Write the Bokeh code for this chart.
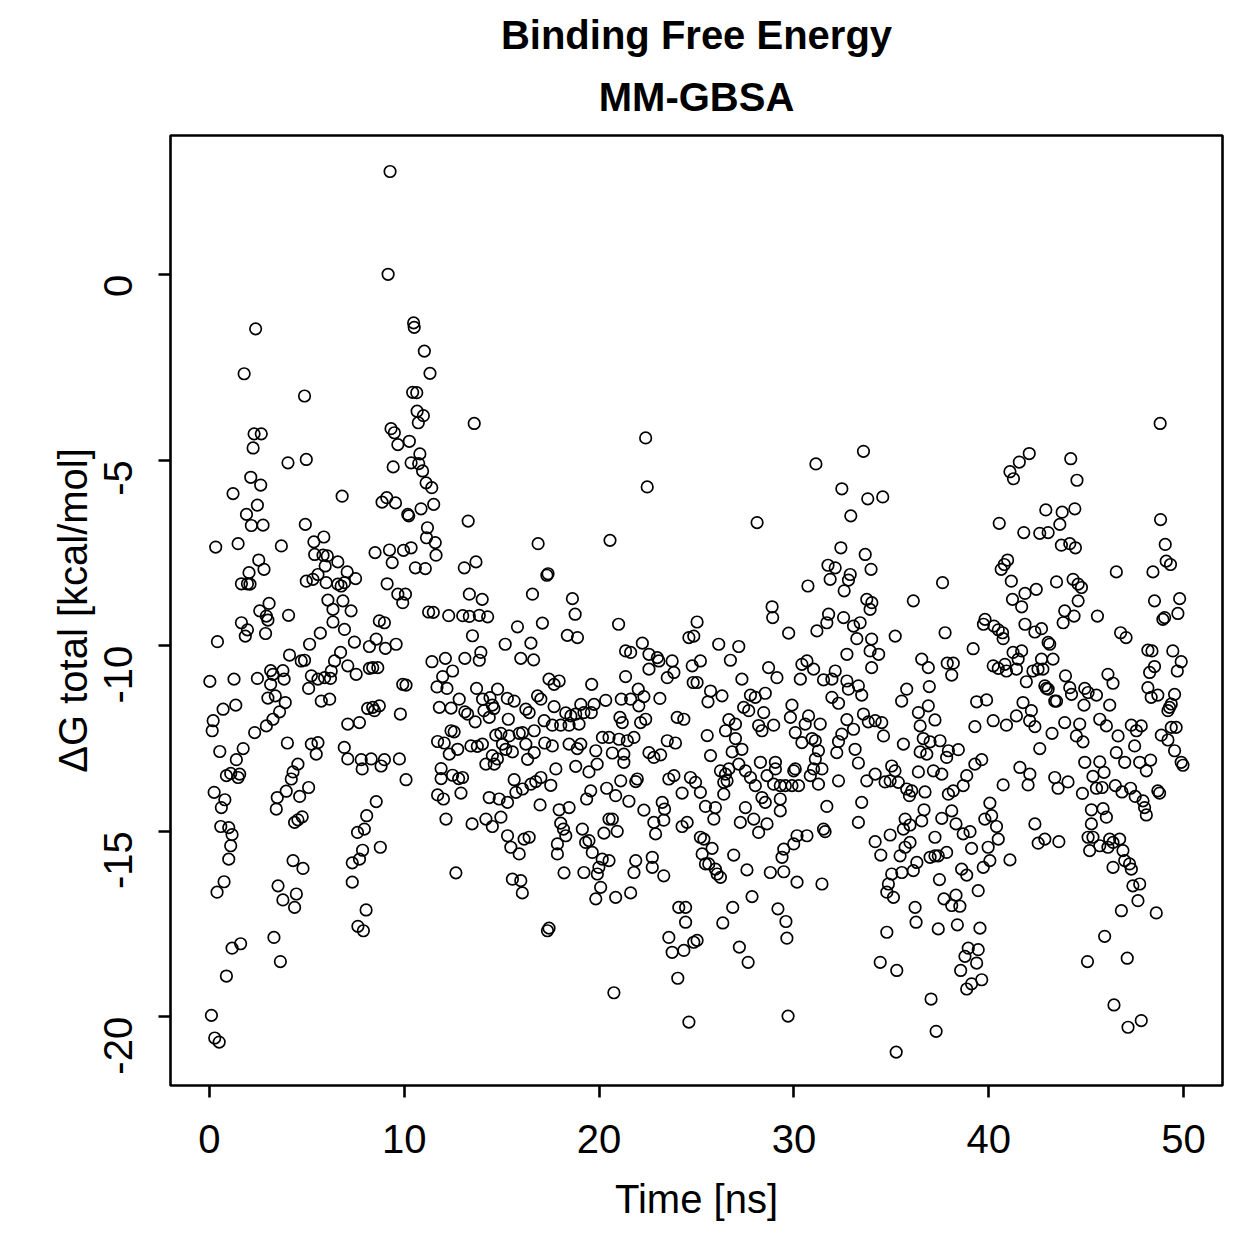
import math
from bokeh.plotting import figure
from bokeh.models import Range1d, FixedTicker, Title, ColumnDataSource
from bokeh.embed import file_html
from bokeh.resources import INLINE

# MM-GBSA binding free energy per frame: (time [ns], dG total [kcal/mol])
frames_00_07 = [
    (2.37, -1.46), (1.78, -2.67), (4.88, -3.27), (2.29, -4.29), (2.66, -4.29), (2.24, -4.67),
    (4.03, -5.07), (4.97, -4.98), (2.12, -5.46), (2.63, -5.67), (1.21, -5.9), (2.46, -6.21),
    (1.9, -6.46), (2.15, -6.76), (2.75, -6.75), (6.81, -5.97), (4.92, -6.73), (0.32, -7.34),
    (1.47, -7.25), (3.69, -7.31), (2.53, -7.69), (2.8, -7.94), (2.03, -8.03), (1.64, -8.33),
    (1.95, -8.33), (2.08, -8.34), (5.87, -7.07), (5.36, -7.2), (5.4, -7.54), (5.83, -7.56),
    (6.05, -7.58), (6.59, -7.74), (5.94, -7.85), (7.07, -8.01), (4.97, -8.26), (5.31, -8.21),
    (5.57, -8.08), (5.99, -8.3), (6.59, -8.34), (6.76, -8.39), (6.93, -8.3),
    (3.06, -8.86), (2.58, -9.06), (2.92, -9.2), (3.0, -9.31), (2.88, -9.67), (4.06, -9.18),
    (1.64, -9.38), (1.95, -9.57), (1.84, -9.74), (0.41, -9.89), (5.14, -9.96), (5.69, -9.66),
    (6.08, -8.77), (6.34, -9.02), (6.85, -8.79), (6.34, -9.36), (6.93, -9.56), (4.11, -10.25),
    (4.71, -10.41), (4.88, -10.39), (0.02, -10.96), (1.26, -10.9), (2.46, -10.88), (3.14, -10.67),
    (3.26, -10.77), (3.77, -10.67), (3.83, -10.9), (3.14, -11.04), (3.0, -11.41), (3.38, -11.35),
    (3.89, -11.53), (3.6, -11.78), (3.26, -11.98), (2.92, -12.16), (2.32, -12.34), (5.23, -10.81),
    (5.57, -10.9), (5.91, -10.86), (6.21, -10.88), (6.25, -10.68), (5.09, -11.15), (5.74, -11.49),
    (6.17, -11.44), (6.42, -10.41), (6.73, -10.18), (7.1, -10.54), (0.7, -11.71), (1.35, -11.6),
    (0.19, -12.02), (0.14, -12.29), (0.53, -12.85), (1.73, -12.77), (1.38, -13.07), (0.87, -13.5),
    (1.09, -13.44), (1.55, -13.46), (1.47, -13.55), (4.0, -12.62), (5.23, -12.65), (5.57, -12.61),
    (5.48, -12.92), (6.92, -12.74), (7.1, -13.05), (7.1, -12.11), (4.29, -13.4), (4.54, -13.19),
    (4.2, -13.59), (3.94, -13.92), (4.63, -14.06), (5.09, -13.82), (3.48, -14.09), (3.43, -14.4),
    (4.37, -14.76), (4.54, -14.69), (4.76, -14.61), (0.24, -13.95), (0.79, -14.15), (0.61, -14.36),
    (0.58, -14.87), (0.99, -14.9), (1.16, -15.09), (1.09, -15.39), (0.99, -15.75), (4.29, -15.79),
    (4.8, -16.0), (0.75, -16.36), (0.39, -16.64), (3.52, -16.47), (3.77, -16.85), (4.46, -16.69),
    (4.37, -17.05), (3.31, -17.86), (3.64, -18.51), (1.6, -18.03), (1.16, -18.15), (0.87, -18.9),
    (0.1, -19.96), (0.27, -20.57), (0.5, -20.68),
]

frames_07_16 = [
    (9.27, 2.78), (9.17, 0.01), (10.48, -1.3), (10.51, -1.42), (11.03, -2.06), (11.32, -2.66),
    (10.43, -3.17), (10.64, -3.18), (10.66, -3.68), (10.98, -3.8), (10.72, -3.99), (13.59, -4.01),
    (9.32, -4.15), (9.49, -4.26), (9.67, -4.58), (10.26, -4.49), (10.8, -4.83), (10.35, -5.07),
    (10.74, -5.09), (10.94, -5.29), (9.43, -5.18), (11.12, -5.61), (11.41, -5.74), (11.51, -6.19),
    (8.86, -6.13), (9.1, -6.01), (9.55, -6.15), (10.18, -6.46), (10.23, -6.5), (10.86, -6.31),
    (13.28, -6.64), (11.19, -6.82), (11.14, -7.09), (11.59, -7.22), (11.63, -7.56), (8.5, -7.49),
    (9.24, -7.42), (9.38, -7.76), (9.96, -7.43), (10.35, -7.36), (10.57, -7.9), (11.08, -7.92),
    (13.08, -7.9), (13.68, -7.74), (7.5, -8.19), (9.12, -8.33), (9.67, -8.61), (10.06, -8.61),
    (13.34, -8.61), (14.0, -8.75),
    (9.92, -8.84), (7.27, -9.06), (8.72, -9.33), (8.98, -9.38), (8.56, -9.82), (7.44, -9.9),
    (8.21, -10.02), (9.03, -10.07), (9.58, -9.96), (7.53, -10.77), (8.21, -10.61), (8.38, -10.59),
    (8.64, -10.59), (9.92, -11.04), (10.09, -11.06), (8.12, -11.69), (8.38, -11.66), (8.72, -11.62),
    (8.47, -11.75), (9.8, -11.84), (7.7, -12.07), (7.79, -13.07), (7.84, -13.32), (8.3, -13.05),
    (8.81, -13.24), (8.98, -13.07), (9.75, -13.05), (10.09, -13.61), (8.56, -14.2), (8.07, -14.58),
    (7.6, -15.03), (7.95, -14.94), (8.77, -15.43), (7.86, -15.51), (7.7, -15.75), (7.33, -15.85),
    (7.33, -16.37), (8.04, -17.12), (7.62, -17.56), (7.9, -17.68),
    (14.28, -9.22), (13.85, -9.18), (13.34, -9.21), (13.0, -9.19), (12.28, -9.19), (11.49, -9.1),
    (11.25, -9.09), (13.5, -9.73), (15.81, -9.49), (15.18, -9.96), (15.98, -10.34),
    (11.42, -10.43), (12.11, -10.34), (12.48, -10.68), (11.97, -10.83), (11.68, -11.11),
    (12.19, -11.15), (13.11, -10.34), (13.85, -10.39), (13.93, -10.18),
    (11.8, -11.66), (12.4, -11.68), (12.82, -11.44), (13.11, -11.78), (13.25, -11.84), (13.64, -12.05),
    (13.71, -11.15), (14.02, -11.44), (14.4, -11.4), (14.79, -11.17), (15.29, -11.42), (15.64, -11.49),
    (14.52, -11.6), (14.6, -11.69), (14.09, -11.75), (14.36, -11.93), (15.34, -11.98), (16.24, -11.71),
    (11.71, -12.58), (12.05, -12.62), (12.4, -12.29), (12.56, -12.32), (12.31, -12.92), (12.74, -12.79),
    (13.42, -12.7), (13.75, -12.71), (14.01, -12.65), (14.7, -12.41), (14.96, -12.36), (15.38, -12.43),
    (15.9, -12.36), (15.04, -12.65), (15.21, -12.79), (15.55, -12.86), (14.52, -12.96), (14.78, -13.05),
    (14.19, -13.19), (14.62, -13.19),
    (11.89, -13.31), (11.89, -13.58), (12.48, -13.49), (12.79, -13.58), (12.99, -13.55), (12.91, -13.97),
    (11.71, -14.02), (12.01, -14.13), (12.14, -14.67), (13.48, -14.8), (14.19, -14.67), (14.52, -14.87),
    (14.96, -14.62), (14.36, -14.09), (14.87, -14.13), (15.3, -14.22), (15.64, -13.61), (15.73, -13.95),
    (16.07, -13.86), (15.3, -15.12), (15.47, -15.43), (15.9, -15.61), (15.55, -16.29), (15.98, -16.33),
    (16.06, -16.66), (12.65, -16.12),
]

frames_16_25 = [
    (22.39, -4.4), (22.47, -5.72), (16.87, -7.25), (20.56, -7.16), (17.32, -8.1), (17.38, -8.06),
    (16.58, -8.61), (18.63, -8.73),
    (18.77, -9.15), (17.09, -9.39), (16.5, -9.93), (16.64, -10.38), (18.37, -9.72), (18.89, -9.78),
    (21.0, -9.42),
    (21.36, -10.14), (21.62, -10.18), (22.22, -9.93), (22.56, -10.23), (22.99, -10.32), (23.07, -10.41),
    (23.75, -10.41), (23.5, -10.86), (23.84, -10.72), (22.56, -10.63), (21.36, -10.83), (22.01, -11.17),
    (22.3, -11.37), (23.12, -11.42), (22.04, -11.62), (22.39, -11.98), (22.13, -12.07), (21.07, -11.93),
    (21.19, -12.07), (20.34, -11.47), (21.14, -11.44), (21.62, -11.44),
    (24.61, -9.78), (24.86, -9.74), (25.03, -9.36), (24.78, -10.54), (24.83, -10.99), (24.01, -11.93),
    (24.35, -11.98),
    (17.43, -10.9), (17.69, -11.04), (17.95, -10.95), (19.62, -11.04), (16.84, -11.35), (17.01, -11.44),
    (17.69, -11.64), (16.41, -11.8), (18.29, -11.81), (18.55, -11.89), (18.8, -11.84), (19.06, -11.58),
    (19.22, -11.8), (19.6, -11.8), (19.74, -11.58), (18.97, -12.11), (17.18, -12.02), (17.6, -12.14),
    (18.03, -12.14), (18.46, -12.14), (16.67, -12.29), (16.07, -12.34), (16.24, -12.65), (16.67, -12.88),
    (16.33, -13.06), (17.21, -12.62), (17.6, -12.7), (18.46, -12.65), (19.06, -12.65), (18.88, -12.77),
    (19.83, -12.83), (20.17, -12.47), (20.51, -12.47), (21.02, -12.52), (21.45, -12.56), (21.79, -12.47),
    (20.68, -12.89), (21.27, -12.92), (21.27, -13.14), (19.9, -13.19), (18.8, -13.25), (19.48, -13.4),
    (17.78, -13.32), (22.56, -12.88), (22.81, -13.01), (23.16, -12.94), (23.5, -12.56), (23.92, -12.62),
    (16.75, -13.66), (17.01, -13.55), (16.5, -13.73), (17.52, -13.76), (16.97, -14.29), (17.95, -14.42),
    (18.46, -14.36), (18.03, -14.78), (18.17, -14.94), (18.29, -15.12), (17.86, -15.34), (17.86, -15.61),
    (18.2, -16.12), (16.41, -15.16), (16.15, -15.21),
    (19.36, -14.13), (19.57, -13.91), (20.39, -13.84), (20.85, -14.04), (21.53, -14.19), (21.11, -13.64),
    (21.88, -13.66), (21.96, -13.59), (22.3, -14.43), (22.81, -14.76), (22.9, -15.07), (23.24, -14.22),
    (23.36, -14.4), (23.32, -14.7), (23.58, -13.59), (23.84, -13.5), (24.26, -13.97), (24.69, -13.55),
    (24.95, -13.68), (25.2, -13.95), (24.26, -14.87), (24.52, -14.76),
    (20.51, -14.67), (20.68, -14.67), (20.25, -15.05), (19.14, -14.94), (19.31, -15.3), (19.48, -15.25),
    (19.65, -15.57), (20.16, -15.75), (20.51, -15.79), (19.99, -15.97), (19.91, -16.15), (20.08, -16.51),
    (19.83, -16.82), (20.85, -16.78), (21.62, -16.66), (21.88, -15.79), (21.79, -16.11), (22.73, -15.7),
    (22.73, -15.97), (23.32, -16.2), (20.93, -15.0), (19.22, -16.11),
    (24.09, -17.05), (24.44, -17.05), (24.44, -17.45), (23.58, -17.86), (23.75, -18.26), (24.35, -18.21),
    (24.86, -17.99), (25.03, -17.94), (24.04, -18.96), (24.61, -20.14), (20.76, -19.35), (17.43, -17.61),
    (17.35, -17.68),
]

frames_25_34 = [
    (33.57, -4.76), (31.13, -5.1), (32.46, -5.77), (33.79, -6.04), (32.92, -6.5), (28.11, -6.68),
    (32.41, -7.36), (33.66, -7.54), (31.75, -7.83), (32.12, -7.9), (31.86, -8.21), (32.89, -8.08),
    (32.8, -8.23), (33.96, -7.94), (30.72, -8.39), (32.58, -8.52), (33.74, -8.75),
    (33.91, -9.02), (28.88, -8.95), (28.91, -9.24), (29.73, -9.66), (31.78, -9.15), (31.69, -9.38),
    (32.55, -9.24), (33.06, -9.47), (33.4, -9.38), (33.23, -9.81), (33.99, -9.82), (31.18, -9.6),
    (32.72, -10.23), (33.91, -10.14),
    (26.14, -9.96), (27.17, -10.02), (26.74, -10.39), (25.2, -10.41), (25.03, -10.99),
    (28.7, -10.59), (29.13, -10.86), (27.33, -10.9), (30.33, -10.9), (30.41, -10.5), (30.67, -10.41),
    (31.01, -10.63), (31.52, -10.92), (31.95, -10.9), (32.12, -10.68), (32.72, -10.95), (32.8, -11.17),
    (33.31, -11.08), (33.48, -11.33), (33.99, -10.59),
    (25.72, -11.22), (26.31, -11.35), (25.59, -11.51), (27.77, -11.33), (28.02, -11.39), (28.53, -11.28),
    (27.42, -11.66), (27.68, -11.75), (28.45, -11.8), (29.9, -11.6), (29.82, -11.93), (31.95, -11.39),
    (32.29, -11.55), (30.75, -11.89), (30.58, -12.11), (31.35, -12.11), (32.72, -11.99), (33.57, -11.84),
    (33.82, -12.05),
    (26.66, -11.99), (27.0, -12.11), (26.49, -12.29), (25.55, -12.42), (27.0, -12.5), (26.83, -12.86),
    (27.33, -12.79), (28.19, -12.15), (28.36, -12.29), (28.96, -12.14), (30.07, -12.34), (30.41, -12.61),
    (30.93, -12.5), (31.1, -12.56), (32.46, -12.38), (33.06, -12.25), (32.29, -12.58), (32.2, -12.88),
    (31.26, -12.83), (31.1, -13.05), (33.14, -12.79), (33.31, -13.16), (25.72, -12.96),
    (26.23, -13.37), (26.49, -13.46), (26.66, -13.32), (27.17, -13.19), (27.51, -13.37), (27.77, -13.55),
    (28.02, -13.77), (26.4, -13.68), (26.57, -13.64), (28.28, -13.14), (29.05, -13.14), (28.62, -13.5),
    (29.05, -13.32), (30.07, -13.32), (29.99, -13.37), (30.84, -13.5), (31.01, -13.32), (31.44, -13.32),
    (28.96, -13.73), (29.3, -13.77), (29.56, -13.77), (29.9, -13.77), (30.24, -13.77), (31.26, -13.73),
    (32.29, -13.64), (33.74, -13.64),
    (26.4, -14.0), (25.46, -14.33), (25.97, -14.36), (25.89, -14.67), (27.51, -14.36), (27.25, -14.76),
    (27.94, -14.67), (28.19, -15.03), (28.62, -14.8), (28.36, -14.09), (28.53, -14.22), (29.3, -14.13),
    (29.3, -14.45), (31.69, -14.33), (33.48, -14.22), (33.31, -14.76), (31.52, -14.94), (31.6, -15.01),
    (30.67, -15.12), (30.16, -15.12), (29.99, -15.34), (29.48, -15.48), (29.39, -15.7),
    (25.2, -15.16), (25.38, -15.21), (25.8, -15.46), (25.29, -15.61), (25.46, -15.88), (25.63, -15.88),
    (25.97, -16.02), (26.06, -16.15), (26.23, -16.24), (26.91, -15.64), (27.59, -16.04), (28.79, -16.11),
    (29.48, -16.09), (30.16, -16.37), (31.44, -16.42),
    (27.85, -16.76), (26.86, -17.05), (26.35, -17.47), (29.18, -17.09), (29.59, -17.43), (29.64, -17.88),
    (27.2, -18.12), (27.65, -18.53), (29.7, -19.98),
]

frames_34_43 = [
    (42.08, -4.82), (41.57, -5.05), (41.09, -5.31), (41.27, -5.5), (34.56, -5.99), (40.54, -6.7),
    (42.93, -6.34), (41.8, -6.95), (42.62, -6.97), (43.05, -6.95), (37.63, -8.3), (40.97, -7.69),
    (40.8, -7.81), (40.64, -7.94), (41.16, -8.26), (41.86, -8.59), (42.44, -8.48), (41.22, -8.75),
    (36.13, -8.79),
    (34.0, -8.84), (35.2, -9.74), (34.35, -10.23), (37.76, -9.65), (39.2, -10.08), (41.69, -8.95),
    (39.81, -9.29), (39.73, -9.42), (40.27, -9.47), (40.49, -9.57), (40.71, -9.65), (40.74, -9.81),
    (41.86, -9.42), (42.37, -9.63), (42.71, -9.54), (43.05, -9.91),
    (41.25, -10.18), (41.69, -10.14), (41.51, -10.36), (40.23, -10.54), (40.49, -10.61), (40.83, -10.5),
    (40.91, -10.68), (41.42, -10.63), (41.93, -10.97), (42.27, -10.68), (42.53, -10.63), (42.78, -10.63),
    (42.71, -10.36), (42.88, -11.08), (42.96, -11.15), (43.05, -11.17),
    (36.56, -10.36), (36.9, -10.59), (37.87, -10.47), (38.18, -10.47), (38.1, -10.79), (36.95, -11.1),
    (35.79, -11.17), (35.53, -11.49), (39.38, -11.51), (39.89, -11.46), (39.29, -12.18), (40.23, -12.02),
    (40.91, -12.14), (41.42, -11.89), (41.76, -11.53), (42.19, -11.75), (42.1, -12.02), (42.37, -12.18),
    (42.62, -12.77),
    (34.17, -12.02), (34.51, -12.07), (34.6, -12.43), (36.39, -11.8), (36.9, -11.62), (37.24, -12.0),
    (36.48, -12.16), (36.64, -12.5), (36.99, -12.59), (37.5, -12.56), (35.62, -12.65), (36.48, -12.86),
    (36.82, -12.92), (37.93, -12.83), (38.44, -12.8), (37.84, -13.01), (37.16, -13.37), (37.59, -13.46),
    (36.39, -13.4), (35.02, -13.24), (35.19, -13.37), (34.17, -13.46), (34.68, -13.67), (34.94, -13.64),
    (35.36, -13.68), (35.79, -13.86), (36.05, -13.91), (35.93, -14.04), (36.73, -13.94), (37.93, -14.0),
    (38.18, -13.91), (38.69, -13.77), (38.87, -13.5), (39.29, -13.19), (39.64, -13.07), (40.74, -13.75),
    (41.6, -13.28), (42.11, -13.46), (42.02, -13.75), (40.06, -14.24), (39.8, -14.67), (40.15, -14.58),
    (40.4, -14.87), (40.49, -15.21), (39.97, -15.43), (40.06, -15.79), (39.72, -15.97), (39.12, -15.46),
    (39.04, -15.01), (38.69, -15.07), (37.59, -14.65), (38.1, -14.45), (38.32, -14.8), (36.68, -14.42),
    (36.56, -14.72), (35.71, -14.67), (35.96, -14.83), (35.62, -14.94), (34.94, -15.1), (34.17, -15.28),
    (34.46, -15.64), (35.45, -15.66), (35.71, -15.43), (35.96, -15.3), (36.31, -15.84), (36.13, -16.06),
    (35.54, -16.11), (35.02, -16.15), (34.85, -16.42), (34.77, -16.64), (35.11, -16.78), (36.99, -15.7),
    (37.24, -15.66), (37.41, -15.66), (37.84, -15.57), (37.24, -15.16), (38.61, -16.02), (38.87, -16.18),
    (39.46, -16.6), (37.47, -16.3), (37.7, -16.82), (38.32, -16.72), (38.1, -17.0), (38.52, -17.02),
    (36.22, -17.05), (36.27, -17.45), (37.41, -17.63), (38.39, -17.52), (39.55, -17.61), (41.09, -15.77),
    (42.37, -14.8), (42.54, -15.32), (42.88, -15.21), (34.43, -18.53), (35.28, -18.75), (34.77, -17.72),
    (38.95, -18.15), (39.46, -18.19), (38.78, -18.37), (39.38, -18.55), (38.56, -18.75), (39.64, -19.0),
    (39.12, -19.11), (38.87, -19.25), (37.04, -19.52), (37.3, -20.39), (35.25, -20.95),
]

frames_43_50 = [
    (48.8, -4.01), (44.21, -4.96), (44.53, -5.54), (43.77, -6.4), (44.42, -6.31), (43.65, -6.73),
    (43.73, -7.29), (44.16, -7.25), (44.45, -7.36), (48.82, -6.6), (49.06, -7.27), (49.11, -7.72),
    (49.33, -7.81), (46.55, -8.01), (48.43, -8.01), (43.48, -8.28), (44.33, -8.21), (44.59, -8.34),
    (44.76, -8.43), (49.8, -8.73), (48.51, -8.79), (44.59, -8.79),
    (49.71, -9.13), (48.94, -9.29), (49.03, -9.24), (43.9, -9.06), (44.38, -9.2), (43.82, -9.38),
    (45.58, -9.2), (43.13, -9.96), (43.3, -10.36), (43.39, -11.49), (43.48, -11.49), (46.77, -9.65),
    (47.05, -9.78),
    (48.17, -10.12), (48.38, -10.14), (49.45, -10.14), (49.88, -10.43), (49.68, -10.68), (48.51, -10.56),
    (48.26, -10.72), (48.17, -11.13), (48.34, -11.39), (48.68, -11.33), (49.54, -11.31), (49.37, -11.57),
    (49.2, -11.75), (49.28, -11.66),
    (43.94, -10.81), (44.16, -11.13), (44.25, -11.31), (44.93, -11.15), (45.1, -11.26), (45.53, -11.33),
    (44.89, -11.6), (46.21, -11.6), (46.12, -10.77), (46.38, -11.01),
    (43.9, -12.07), (43.25, -12.36), (44.67, -12.11), (44.5, -12.43), (44.84, -12.59), (45.7, -11.98),
    (46.04, -12.16), (46.64, -12.43), (47.32, -12.14), (47.83, -12.16), (47.58, -12.29), (47.49, -12.7),
    (48.86, -12.41), (49.2, -12.54), (49.37, -12.2), (49.62, -12.2), (49.54, -12.83), (49.88, -13.14),
    (49.97, -13.22), (46.55, -12.88), (46.98, -13.14), (47.75, -13.14), (48.09, -13.37), (48.31, -13.08),
    (43.39, -13.55), (43.56, -13.84), (44.07, -13.67), (44.93, -13.14), (45.7, -13.13), (45.92, -13.41),
    (45.35, -13.52), (44.81, -13.98), (45.53, -13.84), (45.82, -13.82), (46.5, -13.77), (46.84, -13.94),
    (47.28, -13.84), (47.52, -14.06), (47.92, -14.18), (48.0, -14.36), (48.09, -14.56), (48.68, -13.91),
    (48.77, -13.97),
    (45.27, -14.42), (45.87, -14.39), (46.04, -14.62), (45.27, -14.8), (45.1, -15.16), (45.35, -15.16),
    (45.7, -15.39), (45.18, -15.52), (46.21, -15.21), (46.38, -15.3), (46.72, -15.21), (46.12, -15.43),
    (46.89, -15.52), (46.98, -15.79), (47.23, -15.88), (47.32, -16.02), (46.38, -15.97), (47.4, -16.47),
    (47.75, -16.42), (47.66, -16.87), (46.81, -17.14), (48.6, -17.2), (45.95, -17.83), (45.07, -18.51),
    (47.11, -18.42), (43.6, -15.28), (46.43, -19.68), (47.15, -20.28), (47.83, -20.1),
]

x_ticks = [0, 10, 20, 30, 40, 50]
y_ticks = [-20, -15, -10, -5, 0]

all_frames = frames_00_07 + frames_07_16 + frames_16_25 + frames_25_34 + frames_34_43 + frames_43_50
source = ColumnDataSource(data=dict(
    time=[t for t, _ in all_frames],
    dg=[g for _, g in all_frames],
))

FONT = "Liberation Sans"
FONT_SIZE = "40px"

p = figure(
    width=1259, height=1259,
    output_backend="svg", toolbar_location=None,
    x_range=Range1d(-2, 52), y_range=Range1d(-21.85, 3.75),
    min_border_left=170, min_border_right=37,
    min_border_top=135, min_border_bottom=174,
    background_fill_color="white", border_fill_color="white",
)

p.xgrid.visible = False
p.ygrid.visible = False
p.outline_line_color = "black"
p.outline_line_width = 2.6
p.outline_line_alpha = 1.0

p.scatter("time", "dg", source=source, marker="circle", size=11.5,
          fill_color=None, line_color="black", line_width=1.7)

for ax in (p.xaxis[0], p.yaxis[0]):
    ax.axis_line_color = None
    ax.major_tick_in = 0
    ax.major_tick_out = 12
    ax.major_tick_line_width = 2.6
    ax.major_tick_line_color = "black"
    ax.minor_tick_line_color = None
    ax.major_label_text_font = FONT
    ax.major_label_text_font_size = FONT_SIZE
    ax.major_label_text_color = "black"
    ax.axis_label_text_font = FONT
    ax.axis_label_text_font_size = FONT_SIZE
    ax.axis_label_text_font_style = "normal"
    ax.axis_label_text_color = "black"

p.xaxis.ticker = FixedTicker(ticks=x_ticks)
p.yaxis.ticker = FixedTicker(ticks=y_ticks)
# plain hyphen-minus for negative tick labels
p.yaxis.major_label_overrides = {v: str(v) for v in y_ticks}
p.xaxis.axis_label = "Time [ns]"
p.yaxis.axis_label = "\u0394G total [kcal/mol]"
p.xaxis.major_label_standoff = 27
p.xaxis.axis_label_standoff = 21
p.yaxis.major_label_orientation = math.pi / 2
p.yaxis.major_label_standoff = 40
p.yaxis.axis_label_standoff = -7

sub_title = Title(text="MM-GBSA", align="center", text_font=FONT, text_color="black",
                  text_font_size=FONT_SIZE, text_font_style="bold", standoff=33)
main_title = Title(text="Binding Free Energy", align="center", text_font=FONT, text_color="black",
                   text_font_size=FONT_SIZE, text_font_style="bold", standoff=0)
p.add_layout(sub_title, "above")
p.add_layout(main_title, "above")

open("out.html", "w").write(file_html(p, INLINE))
